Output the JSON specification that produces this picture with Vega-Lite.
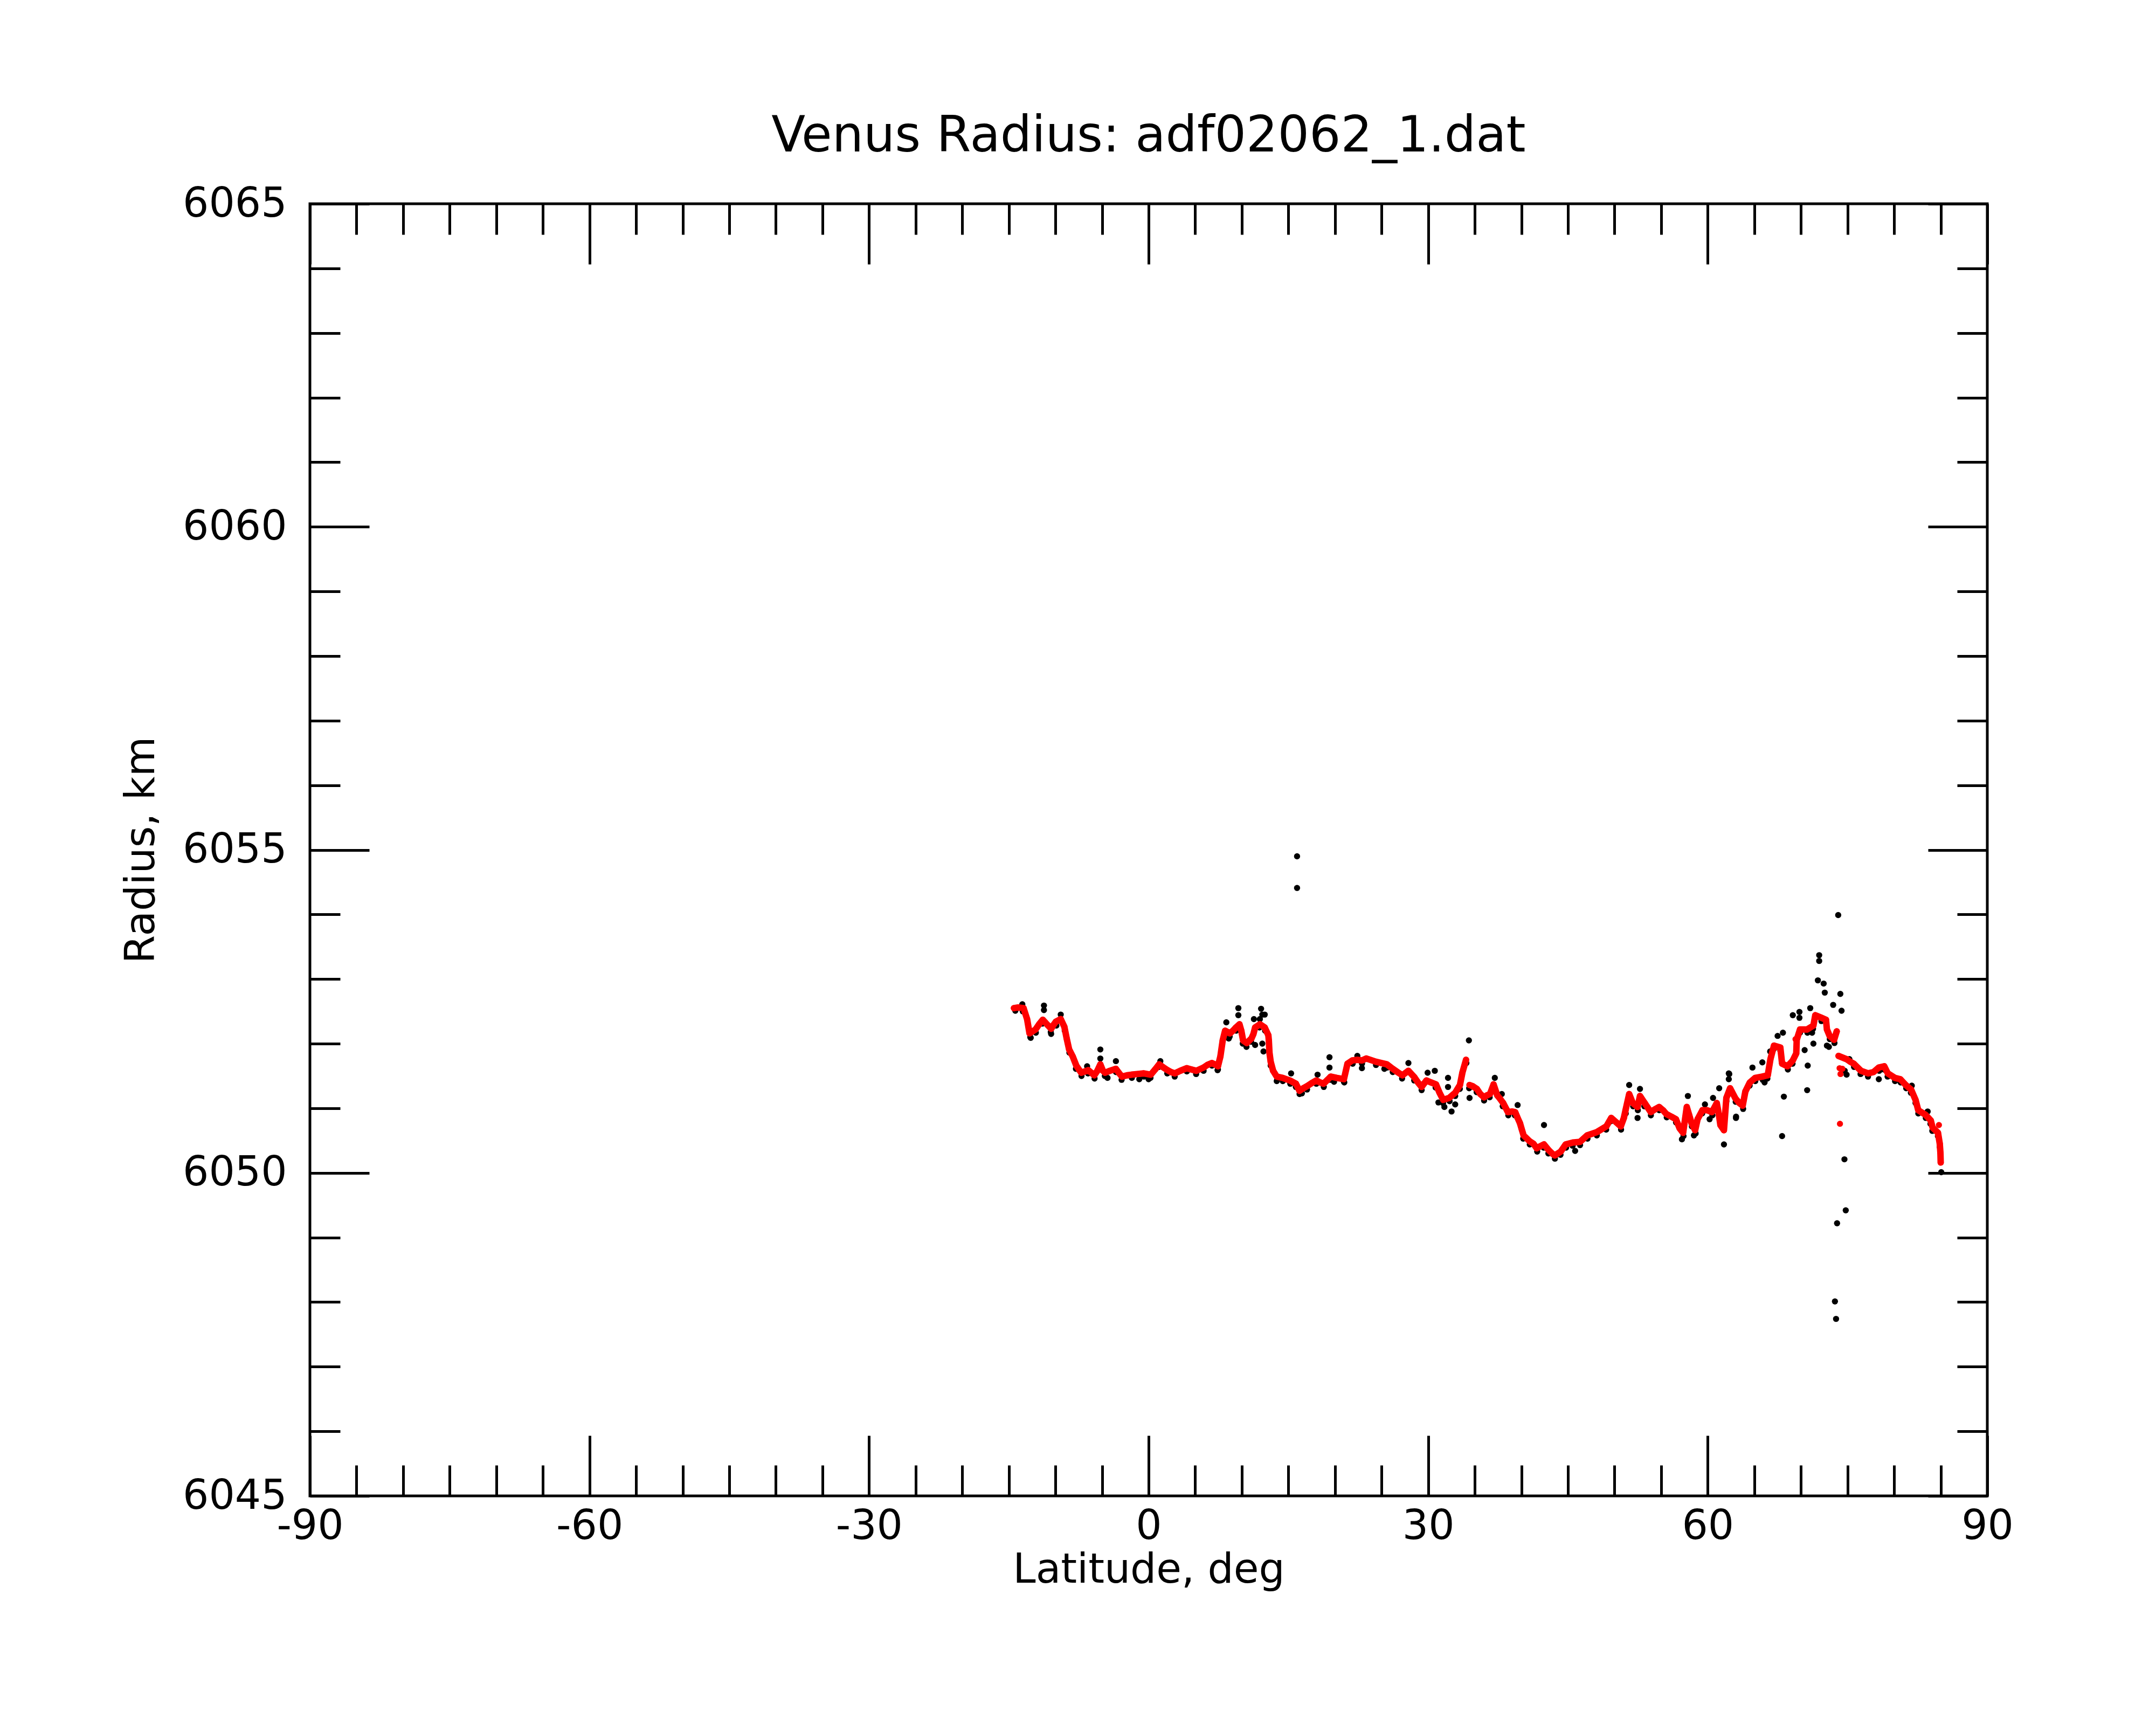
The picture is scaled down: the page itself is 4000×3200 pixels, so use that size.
{
  "$schema": "https://vega.github.io/schema/vega-lite/v6.json",
  "autosize": "none",
  "padding": {"left": 575, "top": 378, "right": 313, "bottom": 425},
  "width": 3112,
  "height": 2397,
  "background": "white",
  "config": {
    "font": "DejaVu Sans",
    "view": {"stroke": "black", "strokeWidth": 5},
    "axis": {
      "domain": false,
      "grid": false,
      "tickColor": "black",
      "tickWidth": 5,
      "tickCap": "butt",
      "labelColor": "black",
      "labelFontSize": 76,
      "labelFlush": false,
      "labelOverlap": false,
      "labelLimit": 1000,
      "labelExpr": "toString(datum.value)",
      "titleColor": "black",
      "titleFontSize": 76,
      "titleFontWeight": "normal"
    }
  },
  "title": {
    "text": "Venus Radius: adf02062_1.dat",
    "fontSize": 92,
    "fontWeight": "normal",
    "color": "black",
    "anchor": "middle",
    "baseline": "alphabetic",
    "offset": -33
  },
  "datasets": {
    "raw": [
      {"lat": -14.3, "r": 6052.51}, {"lat": -13.5, "r": 6052.5}, {"lat": -12.7, "r": 6052.1}, {"lat": -12.1, "r": 6052.17},
      {"lat": -11.4, "r": 6052.31}, {"lat": -10.5, "r": 6052.18}, {"lat": -9.9, "r": 6052.28}, {"lat": -9.0, "r": 6052.2},
      {"lat": -8.5, "r": 6051.86}, {"lat": -7.8, "r": 6051.61}, {"lat": -7.2, "r": 6051.5}, {"lat": -6.5, "r": 6051.54},
      {"lat": -5.8, "r": 6051.46}, {"lat": -4.7, "r": 6051.5}, {"lat": -3.5, "r": 6051.56}, {"lat": -2.9, "r": 6051.44},
      {"lat": -1.8, "r": 6051.47}, {"lat": -0.5, "r": 6051.49}, {"lat": 0.2, "r": 6051.47}, {"lat": 1.1, "r": 6051.64},
      {"lat": 2.0, "r": 6051.54}, {"lat": 2.8, "r": 6051.49}, {"lat": 4.1, "r": 6051.57}, {"lat": 5.1, "r": 6051.53},
      {"lat": 5.9, "r": 6051.58}, {"lat": 6.8, "r": 6051.66}, {"lat": 7.4, "r": 6051.59}, {"lat": 8.2, "r": 6052.15},
      {"lat": 8.7, "r": 6052.11}, {"lat": 9.4, "r": 6052.2}, {"lat": 10.1, "r": 6052.0}, {"lat": 10.5, "r": 6051.95},
      {"lat": 11.0, "r": 6052.03}, {"lat": 11.9, "r": 6052.25}, {"lat": 12.5, "r": 6052.2}, {"lat": 13.1, "r": 6051.66},
      {"lat": 13.8, "r": 6051.44}, {"lat": 14.4, "r": 6051.42}, {"lat": 15.2, "r": 6051.38}, {"lat": 15.8, "r": 6051.33},
      {"lat": 16.2, "r": 6051.22}, {"lat": 17.0, "r": 6051.29}, {"lat": 18.0, "r": 6051.38}, {"lat": 18.8, "r": 6051.33},
      {"lat": 19.5, "r": 6051.44}, {"lat": 21.0, "r": 6051.4}, {"lat": 21.9, "r": 6051.69}, {"lat": 22.9, "r": 6051.69},
      {"lat": 24.4, "r": 6051.67}, {"lat": 25.6, "r": 6051.63}, {"lat": 26.2, "r": 6051.56}, {"lat": 27.2, "r": 6051.46},
      {"lat": 28.5, "r": 6051.43}, {"lat": 29.3, "r": 6051.28}, {"lat": 30.8, "r": 6051.32}, {"lat": 31.6, "r": 6051.08},
      {"lat": 32.3, "r": 6051.11}, {"lat": 32.9, "r": 6051.19}, {"lat": 33.4, "r": 6051.3}, {"lat": 34.1, "r": 6051.7},
      {"lat": 34.4, "r": 6051.31}, {"lat": 35.2, "r": 6051.25}, {"lat": 36.0, "r": 6051.12}, {"lat": 36.6, "r": 6051.17},
      {"lat": 37.0, "r": 6051.32}, {"lat": 38.0, "r": 6051.03}, {"lat": 38.6, "r": 6050.89}, {"lat": 39.3, "r": 6050.89},
      {"lat": 40.2, "r": 6050.53}, {"lat": 40.9, "r": 6050.44}, {"lat": 41.7, "r": 6050.33}, {"lat": 42.4, "r": 6050.39},
      {"lat": 42.9, "r": 6050.3}, {"lat": 43.6, "r": 6050.22}, {"lat": 44.2, "r": 6050.28}, {"lat": 44.8, "r": 6050.39},
      {"lat": 45.5, "r": 6050.42}, {"lat": 46.3, "r": 6050.43}, {"lat": 47.1, "r": 6050.53}, {"lat": 48.1, "r": 6050.58},
      {"lat": 49.1, "r": 6050.67}, {"lat": 49.6, "r": 6050.8}, {"lat": 50.7, "r": 6050.67}, {"lat": 51.2, "r": 6050.92},
      {"lat": 51.6, "r": 6051.17}, {"lat": 52.0, "r": 6051.03}, {"lat": 52.5, "r": 6050.97}, {"lat": 53.2, "r": 6051.03},
      {"lat": 53.9, "r": 6050.89}, {"lat": 54.8, "r": 6050.97}, {"lat": 55.6, "r": 6050.86}, {"lat": 56.6, "r": 6050.78},
      {"lat": 57.4, "r": 6050.57}, {"lat": 58.3, "r": 6050.72}, {"lat": 58.7, "r": 6050.61}, {"lat": 59.4, "r": 6050.92},
      {"lat": 60.5, "r": 6050.89}, {"lat": 61.0, "r": 6051.03}, {"lat": 62.0, "r": 6051.11}, {"lat": 62.4, "r": 6051.26},
      {"lat": 63.0, "r": 6051.1}, {"lat": 63.8, "r": 6050.99}, {"lat": 64.5, "r": 6051.35}, {"lat": 65.1, "r": 6051.42},
      {"lat": 65.9, "r": 6051.44}, {"lat": 66.4, "r": 6051.46}, {"lat": 67.1, "r": 6051.92}, {"lat": 67.8, "r": 6051.89},
      {"lat": 68.6, "r": 6051.6}, {"lat": 69.1, "r": 6051.69}, {"lat": 69.9, "r": 6052.17}, {"lat": 70.7, "r": 6052.17},
      {"lat": 71.3, "r": 6052.23}, {"lat": 72.2, "r": 6052.35}, {"lat": 73.1, "r": 6052.07}, {"lat": 73.6, "r": 6052.01},
      {"lat": 74.7, "r": 6051.58}, {"lat": 75.7, "r": 6051.64}, {"lat": 76.4, "r": 6051.53}, {"lat": 77.2, "r": 6051.49},
      {"lat": 78.4, "r": 6051.58}, {"lat": 78.9, "r": 6051.6}, {"lat": 79.3, "r": 6051.49}, {"lat": 80.1, "r": 6051.42},
      {"lat": 80.7, "r": 6051.4}, {"lat": 81.3, "r": 6051.31}, {"lat": 81.8, "r": 6051.24}, {"lat": 82.3, "r": 6051.08},
      {"lat": 82.6, "r": 6050.92}, {"lat": 83.4, "r": 6050.85}, {"lat": 83.9, "r": 6050.76}, {"lat": 84.1, "r": 6050.65},
      {"lat": 84.7, "r": 6050.57}, {"lat": 84.9, "r": 6050.4},
      {"lat": -13.55, "r": 6052.61}, {"lat": -11.23, "r": 6052.59}, {"lat": -11.23, "r": 6052.52}, {"lat": -9.43, "r": 6052.45},
      {"lat": -12.65, "r": 6052.09}, {"lat": -10.46, "r": 6052.15}, {"lat": -5.18, "r": 6051.91}, {"lat": -5.18, "r": 6051.77},
      {"lat": -3.51, "r": 6051.73}, {"lat": -4.41, "r": 6051.47}, {"lat": -6.6, "r": 6051.65}, {"lat": 1.26, "r": 6051.73},
      {"lat": -1.0, "r": 6051.45}, {"lat": 0.0, "r": 6051.45}, {"lat": 8.34, "r": 6052.33}, {"lat": 9.63, "r": 6052.55},
      {"lat": 9.63, "r": 6052.44}, {"lat": 8.6, "r": 6052.08}, {"lat": 11.3, "r": 6052.38}, {"lat": 12.07, "r": 6052.54},
      {"lat": 12.2, "r": 6052.45}, {"lat": 12.46, "r": 6052.45}, {"lat": 11.94, "r": 6052.38}, {"lat": 12.2, "r": 6052.0},
      {"lat": 12.33, "r": 6051.88}, {"lat": 11.43, "r": 6051.98}, {"lat": 15.29, "r": 6051.54}, {"lat": 19.41, "r": 6051.79},
      {"lat": 19.41, "r": 6051.63}, {"lat": 18.13, "r": 6051.52}, {"lat": 22.89, "r": 6051.62}, {"lat": 22.4, "r": 6051.81},
      {"lat": 25.3, "r": 6051.61}, {"lat": 7.44, "r": 6051.6}, {"lat": 13.75, "r": 6051.42}, {"lat": 16.45, "r": 6051.23},
      {"lat": 19.9, "r": 6051.41}, {"lat": 20.96, "r": 6051.41}, {"lat": 15.93, "r": 6054.9}, {"lat": 15.93, "r": 6054.41},
      {"lat": 34.37, "r": 6052.05}, {"lat": 27.88, "r": 6051.7}, {"lat": 29.94, "r": 6051.55}, {"lat": 30.71, "r": 6051.58},
      {"lat": 32.13, "r": 6051.47}, {"lat": 32.13, "r": 6051.33}, {"lat": 32.51, "r": 6050.95}, {"lat": 31.74, "r": 6051.02},
      {"lat": 31.1, "r": 6051.09}, {"lat": 32.9, "r": 6051.06}, {"lat": 34.44, "r": 6051.16}, {"lat": 37.15, "r": 6051.47},
      {"lat": 37.9, "r": 6051.22}, {"lat": 39.6, "r": 6051.05}, {"lat": 42.43, "r": 6050.74}, {"lat": 45.77, "r": 6050.34},
      {"lat": 51.57, "r": 6051.36}, {"lat": 52.73, "r": 6051.3}, {"lat": 52.47, "r": 6050.85}, {"lat": 57.23, "r": 6050.52},
      {"lat": 57.87, "r": 6051.19}, {"lat": 58.52, "r": 6050.58}, {"lat": 59.7, "r": 6051.06}, {"lat": 61.23, "r": 6051.31},
      {"lat": 60.57, "r": 6051.16}, {"lat": 60.2, "r": 6050.83}, {"lat": 61.74, "r": 6050.44}, {"lat": 62.26, "r": 6051.54},
      {"lat": 62.26, "r": 6051.45}, {"lat": 63.03, "r": 6050.85}, {"lat": 74.0, "r": 6053.99}, {"lat": 71.96, "r": 6053.37},
      {"lat": 71.96, "r": 6053.28}, {"lat": 71.82, "r": 6052.98}, {"lat": 72.44, "r": 6052.93}, {"lat": 72.56, "r": 6052.79},
      {"lat": 74.23, "r": 6052.77}, {"lat": 74.36, "r": 6052.51}, {"lat": 73.46, "r": 6052.6}, {"lat": 71.0, "r": 6052.55},
      {"lat": 69.13, "r": 6052.44}, {"lat": 69.84, "r": 6052.49}, {"lat": 69.84, "r": 6052.4}, {"lat": 68.07, "r": 6052.17},
      {"lat": 67.5, "r": 6052.12}, {"lat": 70.73, "r": 6051.66}, {"lat": 70.67, "r": 6051.28}, {"lat": 68.17, "r": 6051.18},
      {"lat": 67.98, "r": 6050.57}, {"lat": 71.34, "r": 6052.0}, {"lat": 72.79, "r": 6051.97}, {"lat": 74.67, "r": 6050.21},
      {"lat": 74.81, "r": 6049.42}, {"lat": 73.88, "r": 6049.22}, {"lat": 73.65, "r": 6048.01}, {"lat": 73.77, "r": 6047.74},
      {"lat": 63.04, "r": 6050.87}, {"lat": 62.31, "r": 6051.53}, {"lat": 65.86, "r": 6051.71}, {"lat": 64.8, "r": 6051.63},
      {"lat": 66.1, "r": 6051.4}, {"lat": 85.06, "r": 6050.01}, {"lat": 78.36, "r": 6051.45}, {"lat": 81.9, "r": 6051.35},
      {"lat": 83.6, "r": 6050.95}, {"lat": 73.0, "r": 6051.95}, {"lat": 71.2, "r": 6052.17}, {"lat": 70.4, "r": 6051.9},
      {"lat": 66.7, "r": 6051.88}, {"lat": 75.2, "r": 6051.76}, {"lat": 74.9, "r": 6051.52}
    ],
    "fit": [
      {"lat": -14.45, "r": 6052.55, "s": 1}, {"lat": -14.0, "r": 6052.56, "s": 1}, {"lat": -13.42, "r": 6052.55, "s": 1},
      {"lat": -13.04, "r": 6052.38, "s": 1}, {"lat": -12.78, "r": 6052.16, "s": 1}, {"lat": -12.45, "r": 6052.19, "s": 1},
      {"lat": -12.13, "r": 6052.22, "s": 1}, {"lat": -11.75, "r": 6052.3, "s": 1}, {"lat": -11.36, "r": 6052.37, "s": 1},
      {"lat": -11.1, "r": 6052.33, "s": 1}, {"lat": -10.85, "r": 6052.29, "s": 1}, {"lat": -10.46, "r": 6052.23, "s": 1},
      {"lat": -10.2, "r": 6052.29, "s": 1}, {"lat": -9.95, "r": 6052.34, "s": 1}, {"lat": -9.43, "r": 6052.38, "s": 1},
      {"lat": -9.04, "r": 6052.26, "s": 1}, {"lat": -8.79, "r": 6052.08, "s": 1}, {"lat": -8.53, "r": 6051.91, "s": 1},
      {"lat": -8.14, "r": 6051.8, "s": 1}, {"lat": -7.76, "r": 6051.66, "s": 1}, {"lat": -7.24, "r": 6051.55, "s": 1},
      {"lat": -6.85, "r": 6051.57, "s": 1}, {"lat": -6.47, "r": 6051.59, "s": 1}, {"lat": -6.15, "r": 6051.55, "s": 1},
      {"lat": -5.83, "r": 6051.51, "s": 1}, {"lat": -5.5, "r": 6051.58, "s": 1}, {"lat": -5.18, "r": 6051.68, "s": 1},
      {"lat": -4.9, "r": 6051.58, "s": 1}, {"lat": -4.67, "r": 6051.55, "s": 1}, {"lat": -4.15, "r": 6051.58, "s": 1},
      {"lat": -3.51, "r": 6051.61, "s": 1}, {"lat": -3.2, "r": 6051.55, "s": 1}, {"lat": -2.86, "r": 6051.49, "s": 1},
      {"lat": -2.3, "r": 6051.51, "s": 1}, {"lat": -1.83, "r": 6051.52, "s": 1}, {"lat": -1.2, "r": 6051.53, "s": 1},
      {"lat": -0.55, "r": 6051.54, "s": 1}, {"lat": 0.23, "r": 6051.52, "s": 1}, {"lat": 0.7, "r": 6051.6, "s": 1},
      {"lat": 1.13, "r": 6051.68, "s": 1}, {"lat": 1.6, "r": 6051.63, "s": 1}, {"lat": 2.03, "r": 6051.59, "s": 1},
      {"lat": 2.4, "r": 6051.56, "s": 1}, {"lat": 2.8, "r": 6051.54, "s": 1}, {"lat": 3.4, "r": 6051.58, "s": 1},
      {"lat": 4.09, "r": 6051.62, "s": 1}, {"lat": 4.6, "r": 6051.6, "s": 1}, {"lat": 5.12, "r": 6051.58, "s": 1},
      {"lat": 5.89, "r": 6051.63, "s": 1}, {"lat": 6.3, "r": 6051.67, "s": 1}, {"lat": 6.79, "r": 6051.7, "s": 1},
      {"lat": 7.1, "r": 6051.68, "s": 1}, {"lat": 7.44, "r": 6051.65, "s": 1}, {"lat": 7.7, "r": 6051.8, "s": 1},
      {"lat": 7.95, "r": 6052.05, "s": 1}, {"lat": 8.21, "r": 6052.2, "s": 1}, {"lat": 8.72, "r": 6052.16, "s": 1},
      {"lat": 9.05, "r": 6052.2, "s": 1}, {"lat": 9.37, "r": 6052.25, "s": 1}, {"lat": 9.75, "r": 6052.3, "s": 1},
      {"lat": 9.95, "r": 6052.2, "s": 1}, {"lat": 10.14, "r": 6052.05, "s": 1}, {"lat": 10.53, "r": 6052.01, "s": 1},
      {"lat": 11.04, "r": 6052.08, "s": 1}, {"lat": 11.25, "r": 6052.15, "s": 1}, {"lat": 11.43, "r": 6052.25, "s": 1},
      {"lat": 11.94, "r": 6052.3, "s": 1}, {"lat": 12.46, "r": 6052.25, "s": 1}, {"lat": 12.85, "r": 6052.13, "s": 1},
      {"lat": 12.9, "r": 6052.05, "s": 1}, {"lat": 12.97, "r": 6051.86, "s": 1}, {"lat": 13.1, "r": 6051.72, "s": 1},
      {"lat": 13.36, "r": 6051.58, "s": 1}, {"lat": 13.75, "r": 6051.49, "s": 1}, {"lat": 14.39, "r": 6051.47, "s": 1},
      {"lat": 15.16, "r": 6051.43, "s": 1}, {"lat": 15.81, "r": 6051.38, "s": 1}, {"lat": 16.19, "r": 6051.27, "s": 1},
      {"lat": 16.6, "r": 6051.31, "s": 1}, {"lat": 16.97, "r": 6051.34, "s": 1}, {"lat": 17.5, "r": 6051.39, "s": 1},
      {"lat": 18.0, "r": 6051.43, "s": 1}, {"lat": 18.4, "r": 6051.4, "s": 1}, {"lat": 18.77, "r": 6051.38, "s": 1},
      {"lat": 19.2, "r": 6051.44, "s": 1}, {"lat": 19.54, "r": 6051.49, "s": 1}, {"lat": 20.2, "r": 6051.47, "s": 1},
      {"lat": 20.96, "r": 6051.45, "s": 1}, {"lat": 21.34, "r": 6051.69, "s": 1}, {"lat": 21.86, "r": 6051.74, "s": 1},
      {"lat": 22.4, "r": 6051.75, "s": 1}, {"lat": 22.89, "r": 6051.74, "s": 1}, {"lat": 23.37, "r": 6051.77, "s": 1},
      {"lat": 24.4, "r": 6051.72, "s": 1}, {"lat": 25.56, "r": 6051.68, "s": 1}, {"lat": 26.2, "r": 6051.61, "s": 1},
      {"lat": 26.7, "r": 6051.56, "s": 1}, {"lat": 27.23, "r": 6051.51, "s": 1}, {"lat": 27.88, "r": 6051.58, "s": 1},
      {"lat": 28.52, "r": 6051.48, "s": 1}, {"lat": 28.9, "r": 6051.4, "s": 1}, {"lat": 29.29, "r": 6051.33, "s": 1},
      {"lat": 29.81, "r": 6051.43, "s": 1}, {"lat": 30.3, "r": 6051.4, "s": 1}, {"lat": 30.84, "r": 6051.37, "s": 1},
      {"lat": 31.22, "r": 6051.24, "s": 1}, {"lat": 31.61, "r": 6051.13, "s": 1}, {"lat": 32.25, "r": 6051.16, "s": 1},
      {"lat": 32.9, "r": 6051.24, "s": 1}, {"lat": 33.41, "r": 6051.36, "s": 1}, {"lat": 33.67, "r": 6051.55, "s": 1},
      {"lat": 34.06, "r": 6051.75, "s": 1},
      {"lat": 34.44, "r": 6051.36, "s": 2}, {"lat": 34.8, "r": 6051.34, "s": 2}, {"lat": 35.22, "r": 6051.3, "s": 2},
      {"lat": 35.6, "r": 6051.22, "s": 2}, {"lat": 35.99, "r": 6051.17, "s": 2}, {"lat": 36.3, "r": 6051.2, "s": 2},
      {"lat": 36.63, "r": 6051.22, "s": 2}, {"lat": 37.02, "r": 6051.37, "s": 2}, {"lat": 37.41, "r": 6051.2, "s": 2},
      {"lat": 37.7, "r": 6051.15, "s": 2}, {"lat": 38.05, "r": 6051.08, "s": 2}, {"lat": 38.56, "r": 6050.94, "s": 2},
      {"lat": 39.0, "r": 6050.95, "s": 2}, {"lat": 39.34, "r": 6050.94, "s": 2}, {"lat": 39.6, "r": 6050.85, "s": 2},
      {"lat": 39.85, "r": 6050.77, "s": 2}, {"lat": 40.05, "r": 6050.67, "s": 2}, {"lat": 40.24, "r": 6050.58, "s": 2},
      {"lat": 40.88, "r": 6050.49, "s": 2}, {"lat": 41.3, "r": 6050.45, "s": 2}, {"lat": 41.65, "r": 6050.38, "s": 2},
      {"lat": 42.0, "r": 6050.41, "s": 2}, {"lat": 42.43, "r": 6050.44, "s": 2}, {"lat": 42.94, "r": 6050.35, "s": 2},
      {"lat": 43.3, "r": 6050.3, "s": 2}, {"lat": 43.59, "r": 6050.27, "s": 2}, {"lat": 44.23, "r": 6050.33, "s": 2},
      {"lat": 44.75, "r": 6050.44, "s": 2}, {"lat": 45.52, "r": 6050.47, "s": 2}, {"lat": 46.29, "r": 6050.48, "s": 2},
      {"lat": 47.06, "r": 6050.58, "s": 2}, {"lat": 48.09, "r": 6050.63, "s": 2}, {"lat": 49.12, "r": 6050.72, "s": 2},
      {"lat": 49.64, "r": 6050.85, "s": 2}, {"lat": 50.2, "r": 6050.78, "s": 2}, {"lat": 50.67, "r": 6050.72, "s": 2},
      {"lat": 51.0, "r": 6050.85, "s": 2}, {"lat": 51.18, "r": 6050.97, "s": 2}, {"lat": 51.57, "r": 6051.22, "s": 2},
      {"lat": 51.96, "r": 6051.08, "s": 2}, {"lat": 52.47, "r": 6051.02, "s": 2}, {"lat": 52.73, "r": 6051.19, "s": 2},
      {"lat": 53.24, "r": 6051.08, "s": 2}, {"lat": 53.89, "r": 6050.94, "s": 2}, {"lat": 54.3, "r": 6050.98, "s": 2},
      {"lat": 54.79, "r": 6051.02, "s": 2}, {"lat": 55.2, "r": 6050.97, "s": 2}, {"lat": 55.56, "r": 6050.91, "s": 2},
      {"lat": 56.1, "r": 6050.87, "s": 2}, {"lat": 56.59, "r": 6050.83, "s": 2}, {"lat": 56.98, "r": 6050.69, "s": 2},
      {"lat": 57.36, "r": 6050.62, "s": 2}, {"lat": 57.75, "r": 6051.02, "s": 2}, {"lat": 58.0, "r": 6050.9, "s": 2},
      {"lat": 58.26, "r": 6050.77, "s": 2}, {"lat": 58.65, "r": 6050.66, "s": 2}, {"lat": 58.91, "r": 6050.83, "s": 2},
      {"lat": 59.43, "r": 6050.97, "s": 2}, {"lat": 59.94, "r": 6050.97, "s": 2}, {"lat": 60.45, "r": 6050.94, "s": 2},
      {"lat": 60.97, "r": 6051.08, "s": 2}, {"lat": 61.2, "r": 6050.9, "s": 2}, {"lat": 61.36, "r": 6050.74, "s": 2},
      {"lat": 61.74, "r": 6050.66, "s": 2}, {"lat": 62.0, "r": 6051.16, "s": 2}, {"lat": 62.4, "r": 6051.31, "s": 2},
      {"lat": 62.98, "r": 6051.15, "s": 2}, {"lat": 63.4, "r": 6051.08, "s": 2}, {"lat": 63.75, "r": 6051.04, "s": 2},
      {"lat": 64.04, "r": 6051.26, "s": 2}, {"lat": 64.52, "r": 6051.4, "s": 2}, {"lat": 65.09, "r": 6051.47, "s": 2},
      {"lat": 65.86, "r": 6051.49, "s": 2}, {"lat": 66.44, "r": 6051.51, "s": 2}, {"lat": 66.73, "r": 6051.76, "s": 2},
      {"lat": 67.11, "r": 6051.97, "s": 2}, {"lat": 67.79, "r": 6051.94, "s": 2}, {"lat": 67.98, "r": 6051.69, "s": 2},
      {"lat": 68.56, "r": 6051.65, "s": 2}, {"lat": 69.13, "r": 6051.74, "s": 2}, {"lat": 69.5, "r": 6051.85, "s": 2},
      {"lat": 69.55, "r": 6052.06, "s": 2}, {"lat": 69.9, "r": 6052.22, "s": 2}, {"lat": 70.67, "r": 6052.22, "s": 2},
      {"lat": 71.34, "r": 6052.28, "s": 2}, {"lat": 71.54, "r": 6052.44, "s": 2}, {"lat": 72.21, "r": 6052.4, "s": 2},
      {"lat": 72.69, "r": 6052.37, "s": 2}, {"lat": 72.79, "r": 6052.22, "s": 2}, {"lat": 73.08, "r": 6052.12, "s": 2},
      {"lat": 73.56, "r": 6052.06, "s": 2}, {"lat": 73.84, "r": 6052.19, "s": 2},
      {"lat": 74.04, "r": 6051.81, "s": 3}, {"lat": 74.9, "r": 6051.76, "s": 3}, {"lat": 75.3, "r": 6051.72, "s": 3},
      {"lat": 75.67, "r": 6051.69, "s": 3}, {"lat": 76.44, "r": 6051.58, "s": 3}, {"lat": 77.21, "r": 6051.54, "s": 3},
      {"lat": 77.79, "r": 6051.56, "s": 3}, {"lat": 78.36, "r": 6051.63, "s": 3}, {"lat": 78.94, "r": 6051.65, "s": 3},
      {"lat": 79.32, "r": 6051.54, "s": 3}, {"lat": 80.09, "r": 6051.47, "s": 3}, {"lat": 80.67, "r": 6051.45, "s": 3},
      {"lat": 81.25, "r": 6051.36, "s": 3}, {"lat": 81.82, "r": 6051.29, "s": 3}, {"lat": 82.3, "r": 6051.13, "s": 3},
      {"lat": 82.59, "r": 6050.97, "s": 3}, {"lat": 83.36, "r": 6050.9, "s": 3}, {"lat": 83.94, "r": 6050.81, "s": 3},
      {"lat": 84.13, "r": 6050.7, "s": 3}, {"lat": 84.71, "r": 6050.62, "s": 3}, {"lat": 84.9, "r": 6050.45, "s": 3},
      {"lat": 84.97, "r": 6050.31, "s": 3}, {"lat": 85.0, "r": 6050.16, "s": 3}
    ],
    "iso": [
      {"lat": 74.15, "r": 6051.62}, {"lat": 74.45, "r": 6051.61}, {"lat": 74.25, "r": 6051.53},
      {"lat": 74.19, "r": 6050.76}, {"lat": 84.81, "r": 6050.74}, {"lat": 69.42, "r": 6052.07}
    ]
  },
  "layer": [
    {
      "data": {"name": "raw"},
      "mark": {"type": "circle", "color": "black", "opacity": 1, "size": 130},
      "encoding": {
        "x": {
          "field": "lat", "type": "quantitative",
          "scale": {"domain": [-90, 90], "nice": false, "zero": false},
          "axis": {"orient": "bottom", "values": [-90, -60, -30, 0, 30, 60, 90], "tickSize": -112, "labelPadding": 131, "title": "Latitude, deg", "titlePadding": 6}
        },
        "y": {
          "field": "r", "type": "quantitative",
          "scale": {"domain": [6045, 6065], "nice": false, "zero": false},
          "axis": {"orient": "left", "values": [6045, 6050, 6055, 6060, 6065], "tickSize": -110, "labelPadding": 153, "title": "Radius, km", "titlePadding": 74}
        }
      }
    },
    {
      "data": {"name": "fit"},
      "mark": {"type": "line", "color": "red", "strokeWidth": 12, "strokeCap": "round", "strokeJoin": "round"},
      "encoding": {
        "x": {
          "field": "lat", "type": "quantitative",
          "scale": {"domain": [-90, 90], "nice": false, "zero": false},
          "axis": {"orient": "bottom", "values": [-85, -80, -75, -70, -65, -55, -50, -45, -40, -35, -25, -20, -15, -10, -5, 5, 10, 15, 20, 25, 35, 40, 45, 50, 55, 65, 70, 75, 80, 85], "tickSize": -57, "labels": false, "title": null}
        },
        "y": {
          "field": "r", "type": "quantitative",
          "scale": {"domain": [6045, 6065], "nice": false, "zero": false},
          "axis": {"orient": "left", "values": [6046, 6047, 6048, 6049, 6051, 6052, 6053, 6054, 6056, 6057, 6058, 6059, 6061, 6062, 6063, 6064], "tickSize": -56, "labels": false, "title": null}
        },
        "detail": {"field": "s", "type": "nominal"}
      }
    },
    {
      "data": {"name": "fit"},
      "mark": {"type": "circle", "color": "red", "opacity": 1, "size": 130},
      "encoding": {
        "x": {
          "field": "lat", "type": "quantitative",
          "scale": {"domain": [-90, 90], "nice": false, "zero": false},
          "axis": {"orient": "top", "values": [-90, -60, -30, 0, 30, 60, 90], "tickSize": -112, "labels": false, "title": null}
        },
        "y": {
          "field": "r", "type": "quantitative",
          "scale": {"domain": [6045, 6065], "nice": false, "zero": false},
          "axis": {"orient": "right", "values": [6045, 6050, 6055, 6060, 6065], "tickSize": -110, "labels": false, "title": null}
        }
      }
    },
    {
      "data": {"name": "iso"},
      "mark": {"type": "circle", "color": "red", "opacity": 1, "size": 130},
      "encoding": {
        "x": {
          "field": "lat", "type": "quantitative",
          "scale": {"domain": [-90, 90], "nice": false, "zero": false},
          "axis": {"orient": "top", "values": [-85, -80, -75, -70, -65, -55, -50, -45, -40, -35, -25, -20, -15, -10, -5, 5, 10, 15, 20, 25, 35, 40, 45, 50, 55, 65, 70, 75, 80, 85], "tickSize": -57, "labels": false, "title": null}
        },
        "y": {
          "field": "r", "type": "quantitative",
          "scale": {"domain": [6045, 6065], "nice": false, "zero": false},
          "axis": {"orient": "right", "values": [6046, 6047, 6048, 6049, 6051, 6052, 6053, 6054, 6056, 6057, 6058, 6059, 6061, 6062, 6063, 6064], "tickSize": -56, "labels": false, "title": null}
        }
      }
    }
  ],
  "resolve": {"axis": {"x": "independent", "y": "independent"}}
}
